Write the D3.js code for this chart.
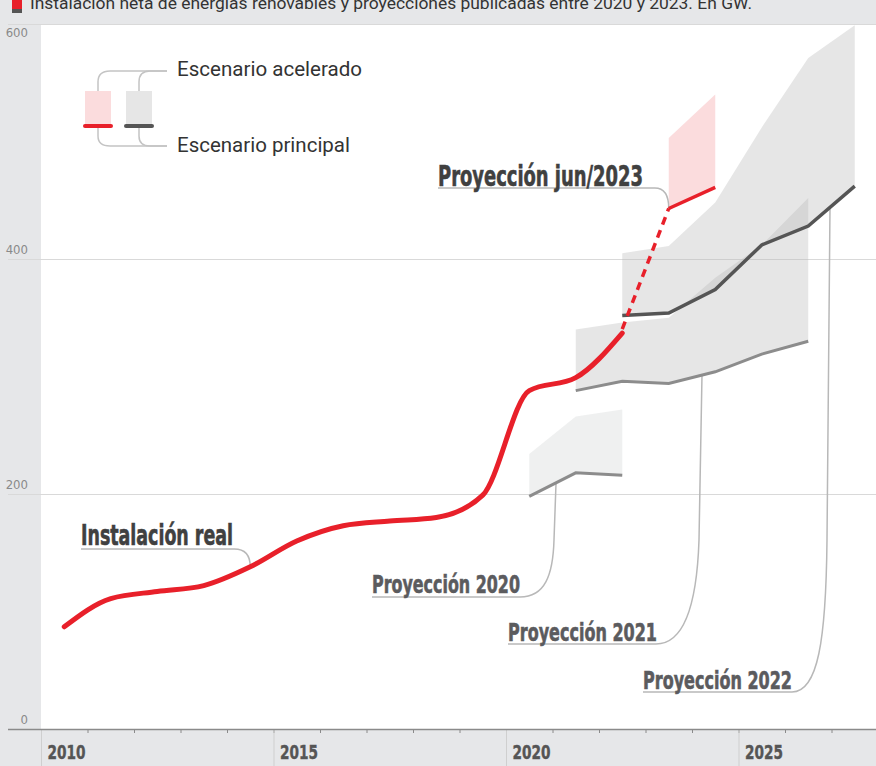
<!DOCTYPE html>
<html><head><meta charset="utf-8">
<script src="https://cdn.jsdelivr.net/npm/d3@7"></script>
<style>
html,body{margin:0;padding:0;background:#e6e7e9;}
svg{display:block;}
</style></head>
<body><svg id="c" width="876" height="766"></svg>
<script>
// ---------- data ----------
const titleText = "Instalación neta de energías renovables y proyecciones publicadas entre 2020 y 2023. En GW.";
const realYears = [2010,2011,2012,2013,2014,2015,2016,2017,2018,2019,2020,2021,2022];
const realValues = [87,111,117,122,138,160,173,177,180,199,288,299,337];
const p2020Years = [2020,2021,2022];
const p2020Values = [198,218,216];
const p2020Upper = [234,266,272];
const p2021Years = [2021,2022,2023,2024,2025,2026];
const p2021Values = [288,296,294,304,319,330];
const p2021Upper = [340,346,350,384,412,452];
const p2022Years = [2022,2023,2024,2025,2026,2027];
const p2022Values = [352,354,374,412,428,462];
const p2022Upper = [405,411,448,512,571,599];
const p2023Years = [2023,2024];
const p2023Values = [443,461];
const p2023Upper = [503,540];
const yTicks = [0,200,400,600];
const xMajor = [2010,2015,2020,2025];
const xMinor = d3.range(2010,2028);

// ---------- setup ----------
const W = 876, H = 766;
const svg = d3.select("#c");
const COND = "'Liberation Sans Narrow','Arial Narrow','DejaVu Sans Condensed',sans-serif";
const SANS = "Roboto,'Liberation Sans',sans-serif";
const RED = "#e8202a";

const x = d3.scaleLinear().domain([2010, 2028]).range([41, 878]);
const y = d3.scaleLinear().domain([0, 600]).range([729, 24]);
const mid = yr => x(yr + 0.5);

// background
svg.append("rect").attr("width", W).attr("height", H).attr("fill", "#e6e7e9");
svg.append("rect").attr("x", 41).attr("y", 25).attr("width", W - 41).attr("height", 729 - 25).attr("fill", "#fff");

// title (cut at the top edge as in the source image)
svg.append("rect").attr("x", 12).attr("y", -4).attr("width", 10).attr("height", 13).attr("fill", RED);
svg.append("rect").attr("x", 12).attr("y", 9).attr("width", 10).attr("height", 4).attr("fill", "#555");
svg.append("text").attr("x", 30).attr("y", 9).attr("font-family", SANS).attr("font-size", 16)
  .attr("fill", "#333").attr("textLength", 722).attr("lengthAdjust", "spacingAndGlyphs").text(titleText);

// gridlines
svg.append("g").selectAll("line").data(yTicks.filter(d => d > 0)).join("line")
  .attr("x1", 8).attr("x2", W).attr("y1", d => y(d) + 0.5).attr("y2", d => y(d) + 0.5)
  .attr("stroke", "#d9d9d9").attr("stroke-width", 1);
// y labels
svg.append("g").selectAll("text").data(yTicks).join("text")
  .attr("x", 28).attr("y", d => d === 600 ? y(d) + 13 : y(d) - 5)
  .attr("text-anchor", "end").attr("font-family", COND).attr("font-size", 13)
  .attr("fill", "#8a8a8a").text(d => d);

// ---------- bands ----------
function band(years, lo, hi) {
  return d3.area().x((d, i) => mid(years[i])).y0((d, i) => y(lo[i])).y1((d, i) => y(hi[i]))(years);
}
svg.append("path").attr("d", band(p2020Years, p2020Values, p2020Upper)).attr("fill", "#c5c8c8").attr("fill-opacity", 0.28);
svg.append("path").attr("d", band(p2021Years, p2021Values, p2021Upper)).attr("fill", "#bababa").attr("fill-opacity", 0.36);
svg.append("path").attr("d", band(p2022Years, p2022Values, p2022Upper)).attr("fill", "#bababa").attr("fill-opacity", 0.36);
svg.append("path").attr("d", band(p2023Years, p2023Values, p2023Upper)).attr("fill", "#fbdcdd");

// ---------- leader lines ----------
const leaders = svg.append("g").attr("fill", "none").attr("stroke", "#b8b8b8").attr("stroke-width", 1.5);
const rx14 = mid(2014), ry14 = y(realValues[4]);
leaders.append("path").attr("d", `M81,549 H${rx14 - 16} Q${rx14},549 ${rx14},${ry14}`);
leaders.append("path").attr("d", `M372,597 H520 C545,597 553,575 554,540 L556,${y(p2020Values[0]) + (y(p2020Values[1]) - y(p2020Values[0])) * 0.55}`);
leaders.append("path").attr("d", `M508,644 H656 C686,644 697,600 699,540 L702,${y(p2021Values[3]) + 3}`);
leaders.append("path").attr("d", `M643,692 H792 C818,692 826,640 827,540 L830,${y(p2022Values[5]) + (y(p2022Values[4]) - y(p2022Values[5])) * 0.53}`);
const jx = mid(2023), jy = y(p2023Values[0]);
leaders.append("path").attr("d", `M438,188 H${jx - 14} Q${jx},188 ${jx},${jy}`);

// ---------- lines ----------
const lineGen = (years, vals) => d3.line().x((d, i) => mid(years[i])).y((d, i) => y(vals[i]))(years);
svg.append("path").attr("d", lineGen(p2020Years, p2020Values)).attr("fill", "none").attr("stroke", "#8c8c8c").attr("stroke-width", 3);
svg.append("path").attr("d", lineGen(p2021Years, p2021Values)).attr("fill", "none").attr("stroke", "#8c8c8c").attr("stroke-width", 3);
svg.append("path").attr("d", lineGen(p2022Years, p2022Values)).attr("fill", "none").attr("stroke", "#555").attr("stroke-width", 3.5);

svg.append("path")
  .attr("d", d3.line().curve(d3.curveMonotoneX).x((d, i) => mid(realYears[i])).y((d, i) => y(realValues[i]))(realYears))
  .attr("fill", "none").attr("stroke", RED).attr("stroke-width", 5).attr("stroke-linecap", "round");
// dashed link
const lastR = realYears.length - 1;
svg.append("line")
  .attr("x1", mid(realYears[lastR])).attr("y1", y(realValues[lastR]) - 4)
  .attr("x2", mid(p2023Years[0])).attr("y2", y(p2023Values[0]))
  .attr("stroke", RED).attr("stroke-width", 3.5).attr("stroke-dasharray", "8,6");
svg.append("path").attr("d", lineGen(p2023Years, p2023Values)).attr("fill", "none").attr("stroke", RED).attr("stroke-width", 3.5);

// ---------- labels ----------
function boldLabel(txt, xx, yy, size, len, col) {
  svg.append("text").attr("x", xx).attr("y", yy).attr("font-family", COND).attr("font-weight", "bold")
    .attr("font-size", size).attr("fill", col).attr("stroke", col).attr("stroke-width", 0.6)
    .attr("textLength", len).attr("lengthAdjust", "spacingAndGlyphs").text(txt);
}
boldLabel("Instalación real", 81, 545, 28, 152, "#404040");
boldLabel("Proyección 2020", 372, 593, 25, 148, "#5b5b5e");
boldLabel("Proyección 2021", 508, 641, 25, 149, "#5b5b5e");
boldLabel("Proyección 2022", 643, 689, 25, 149, "#5b5b5e");
boldLabel("Proyección jun/2023", 438, 186, 29, 205, "#404040");

// ---------- legend ----------
const lg = svg.append("g");
lg.append("rect").attr("x", 85).attr("y", 91).attr("width", 26).attr("height", 35).attr("fill", "#fbdcdd");
lg.append("rect").attr("x", 126).attr("y", 91).attr("width", 26).attr("height", 35).attr("fill", "#e6e6e6");
lg.append("line").attr("x1", 85).attr("x2", 111).attr("y1", 126).attr("y2", 126).attr("stroke", RED).attr("stroke-width", 4).attr("stroke-linecap", "round");
lg.append("line").attr("x1", 126).attr("x2", 152).attr("y1", 126).attr("y2", 126).attr("stroke", "#555").attr("stroke-width", 4).attr("stroke-linecap", "round");
const lgl = lg.append("g").attr("fill", "none").attr("stroke", "#c4c4c4").attr("stroke-width", 1.5);
lgl.append("path").attr("d", "M98,91 V82 Q98,71 110,71 H167");
lgl.append("path").attr("d", "M139,91 V82 Q139,71 150,71 H167");
lgl.append("path").attr("d", "M98,128 V136 Q98,146 110,146 H167");
lgl.append("path").attr("d", "M139,128 V136 Q139,146 150,146 H167");
lg.append("text").attr("x", 177).attr("y", 76).attr("font-family", SANS).attr("font-size", 21).attr("fill", "#333")
  .attr("textLength", 185).attr("lengthAdjust", "spacingAndGlyphs").text("Escenario acelerado");
lg.append("text").attr("x", 177).attr("y", 152).attr("font-family", SANS).attr("font-size", 21).attr("fill", "#333")
  .attr("textLength", 173).attr("lengthAdjust", "spacingAndGlyphs").text("Escenario principal");

// ---------- x axis ----------
const xAxis = d3.axisBottom(x).tickValues(xMinor).tickSize(4).tickFormat("");
const gx = svg.append("g").attr("transform", "translate(0,729)").call(xAxis);
gx.select(".domain").remove();
gx.selectAll(".tick line").attr("stroke", "#8a8a8a");
svg.append("g").selectAll("line").data(xMajor).join("line")
  .attr("x1", d => x(d) + 0.5).attr("x2", d => x(d) + 0.5).attr("y1", 729).attr("y2", 766)
  .attr("stroke", "#cfcfcf").attr("stroke-width", 1);
svg.append("line").attr("x1", 8).attr("x2", W).attr("y1", 729.5).attr("y2", 729.5).attr("stroke", "#8a8a8a").attr("stroke-width", 1.5);
svg.append("g").selectAll("text").data(xMajor).join("text")
  .attr("x", d => x(d) + 6.5).attr("y", 759).attr("font-family", COND).attr("font-weight", "bold")
  .attr("font-size", 20).attr("fill", "#555").attr("stroke", "#555").attr("stroke-width", 0.4)
  .attr("textLength", 38).attr("lengthAdjust", "spacingAndGlyphs").text(d => d);
</script>
</body></html>
